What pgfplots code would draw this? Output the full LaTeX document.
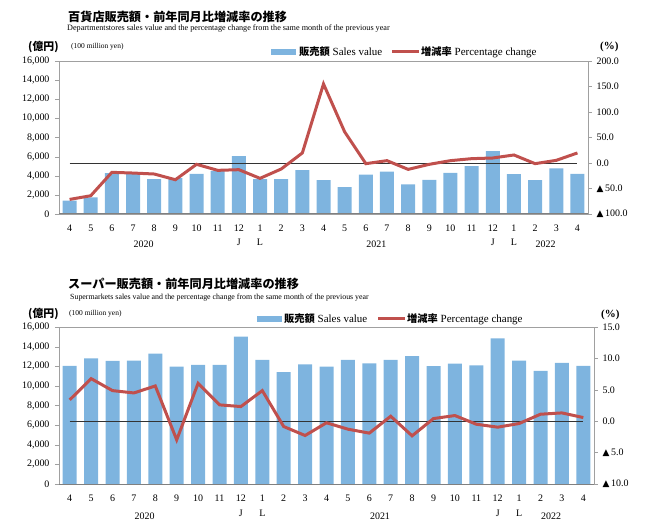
\documentclass[border=0pt]{standalone}
\usepackage{fontspec}
\setmainfont{Liberation Serif}
\newfontfamily\cjk{Noto Sans CJK JP}
\newfontfamily\sym{DejaVu Sans}
\usepackage{pgfplots}
\usepackage{pgfplotstable}
\pgfplotsset{compat=1.18}

\definecolor{barblue}{HTML}{7EB4DF}
\definecolor{linered}{HTML}{C0504D}
\definecolor{framegray}{HTML}{A0A0A0}

% department stores: sales (100 million yen), change (%)
\pgfplotstableread{
i sales chg
0  1400 -71.4
1  1750 -64.2
2  4270 -18.3
3  4230 -19.7
4  3640 -21.6
5  3740 -32.8
6  4200 -2.6
7  4510 -14.4
8  6050 -13.1
9  3640 -30.1
10 3640 -11.8
11 4580 19.7
12 3530 155.0
13 2800 61.0
14 4130 -1.3
15 4440 4.6
16 3110 -12.5
17 3570 -2.6
18 4300 4.6
19 5000 8.5
20 6570 9.8
21 4160 15.7
22 3530 -1.3
23 4760 5.2
24 4200 19.7
}\dept

% supermarkets
\pgfplotstableread{
i sales chg
0  12030 3.39
1  12810 6.78
2  12540 4.87
3  12580 4.50
4  13290 5.61
5  11970 -2.97
6  12140 6.04
7  12140 2.60
8  15020 2.33
9  12640 4.87
10 11390 -0.85
11 12200 -2.28
12 11970 -0.25
13 12640 -1.27
14 12300 -1.90
15 12640 0.79
16 13020 -2.33
17 12000 0.42
18 12270 0.90
19 12100 -0.48
20 14850 -0.95
21 12580 -0.37
22 11530 1.11
23 12340 1.32
24 12030 0.58
}\super

\newcommand{\tri}{{\sym\fontsize{9}{10}\selectfont▲}\,}
\tikzset{yr/.style={font=\fontsize{10}{12}\selectfont}}

\pgfplotsset{
  base/.style={
    scale only axis,
    xmin=-0.5, xmax=24.5,
    clip=false,
    tick label style={font=\fontsize{10}{12}\selectfont},
    /pgf/number format/assume math mode=true,
    scaled y ticks=false,
  },
  leftax/.style={
    base,
    axis line style={framegray},
    xtick={0,...,24},
    xticklabels={4,5,6,7,8,9,10,11,12,1,2,3,4,5,6,7,8,9,10,11,12,1,2,3,4},
    xtick style={draw=none},
    xticklabel style={yshift=-3bp},
    ytick pos=left,
    tick align=outside,
    major tick length=4bp,
    ytick style={framegray},
    yticklabel style={xshift=-2bp},
    /pgf/number format/1000 sep={,},
    ymin=0, ymax=16000,
    ytick={0,2000,...,16000},
  },
  rightax/.style={
    base,
    axis x line=none,
    axis y line*=right,
    axis line style={framegray},
    tick align=outside,
    major tick length=4bp,
    ytick style={framegray},
    yticklabel style={xshift=1bp},
  },
}

\begin{document}
\begin{tikzpicture}
\useasboundingbox (0,0) rectangle (650bp,530bp);

% ---------------- top: department stores
\begin{axis}[leftax, at={(59bp,316bp)}, anchor=south west, width=529bp, height=153bp]
  \addplot[ybar, bar width=14bp, fill=barblue, draw=none] table[x=i,y=sales]{\dept};
  \draw[gray, line width=1bp] (axis cs:-0.5,0) -- (axis cs:24.5,0);
  \node[yr] at (axis cs:3.5,0) [yshift=-30bp] {2020};
  \node[yr] at (axis cs:14.5,0) [yshift=-30bp] {2021};
  \node[yr] at (axis cs:22.5,0) [yshift=-30bp] {2022};
  \node[yr] at (axis cs:8,0) [yshift=-28bp] {J};
  \node[yr] at (axis cs:9,0) [yshift=-28bp] {L};
  \node[yr] at (axis cs:20,0) [yshift=-28bp] {J};
  \node[yr] at (axis cs:21,0) [yshift=-28bp] {L};
\end{axis}
\begin{axis}[rightax, at={(59bp,316bp)}, anchor=south west, width=529bp, height=153bp,
  ymin=-100, ymax=200, ytick={-100,-50,0,50,100,150,200},
  yticklabels={\tri 100.0,\tri 50.0,0.0,50.0,100.0,150.0,200.0}]
  \addplot[black!80, line width=0.8bp] coordinates {(0,0) (24,0)};
  \addplot[linered, line width=3bp] table[x=i,y=chg]{\dept};
\end{axis}

% ---------------- bottom: supermarkets
\begin{axis}[leftax, at={(59bp,46bp)}, anchor=south west, width=535bp, height=157bp]
  \addplot[ybar, bar width=14bp, fill=barblue, draw=none] table[x=i,y=sales]{\super};
  \draw[gray, line width=1bp] (axis cs:-0.5,0) -- (axis cs:24.5,0);
  \node[yr] at (axis cs:3.5,0) [yshift=-32bp] {2020};
  \node[yr] at (axis cs:14.5,0) [yshift=-32bp] {2021};
  \node[yr] at (axis cs:22.5,0) [yshift=-32bp] {2022};
  \node[yr] at (axis cs:8,0) [yshift=-29bp] {J};
  \node[yr] at (axis cs:9,0) [yshift=-29bp] {L};
  \node[yr] at (axis cs:20,0) [yshift=-29bp] {J};
  \node[yr] at (axis cs:21,0) [yshift=-29bp] {L};
\end{axis}
\begin{axis}[rightax, at={(59bp,46bp)}, anchor=south west, width=535bp, height=157bp,
  ymin=-10, ymax=15, ytick={-10,-5,0,5,10,15},
  yticklabels={\tri 10.0,\tri 5.0,0.0,5.0,10.0,15.0}]
  \addplot[black!80, line width=0.8bp] coordinates {(0,0) (24,0)};
  \addplot[linered, line width=3bp] table[x=i,y=chg]{\super};
\end{axis}

% ---------------- titles and legends
\begin{scope}[x=1bp, y=1bp, every node/.style={inner sep=0, anchor=west}]
  % top
  \node[font=\cjk\bfseries\fontsize{12.2}{14}\selectfont] at (68,513) {百貨店販売額・前年同月比増減率の推移};
  \node[font=\fontsize{8.2}{9}\selectfont] at (67,501.5) {Departmentstores sales value and the percentage change from the same month of the previous year};
  \node[font=\cjk\bfseries\fontsize{10.9}{12}\selectfont] at (28,483) {(億円)};
  \node[font=\fontsize{7.5}{9}\selectfont] at (71,483) {(100 million yen)};
  \fill[barblue] (271,475) rectangle (296,481);
  \node[font=\fontsize{11}{12}\selectfont] at (299,478) {{\cjk\bfseries\fontsize{10.3}{12}\selectfont 販売額} Sales value};
  \draw[linered, line width=3bp] (392,478) -- (419,478);
  \node[font=\fontsize{11}{12}\selectfont] at (421,478) {{\cjk\bfseries\fontsize{10.3}{12}\selectfont 増減率} Percentage change};
  \node[font=\bfseries\fontsize{11}{12}\selectfont] at (600,483) {(\%)};
  % bottom
  \node[font=\cjk\bfseries\fontsize{12.2}{14}\selectfont] at (68,246) {スーパー販売額・前年同月比増減率の推移};
  \node[font=\fontsize{7.9}{9}\selectfont] at (70,232) {Supermarkets sales value and the percentage change from the same month of the previous year};
  \node[font=\cjk\bfseries\fontsize{10.9}{12}\selectfont] at (28,216) {(億円)};
  \node[font=\fontsize{7.5}{9}\selectfont] at (69,216) {(100 million yen)};
  \fill[barblue] (257,208) rectangle (282,214);
  \node[font=\fontsize{11}{12}\selectfont] at (284,211) {{\cjk\bfseries\fontsize{10.3}{12}\selectfont 販売額} Sales value};
  \draw[linered, line width=3bp] (378,211) -- (405,211);
  \node[font=\fontsize{11}{12}\selectfont] at (407,211) {{\cjk\bfseries\fontsize{10.3}{12}\selectfont 増減率} Percentage change};
  \node[font=\bfseries\fontsize{11}{12}\selectfont] at (601,215) {(\%)};
\end{scope}
\end{tikzpicture}
\end{document}
